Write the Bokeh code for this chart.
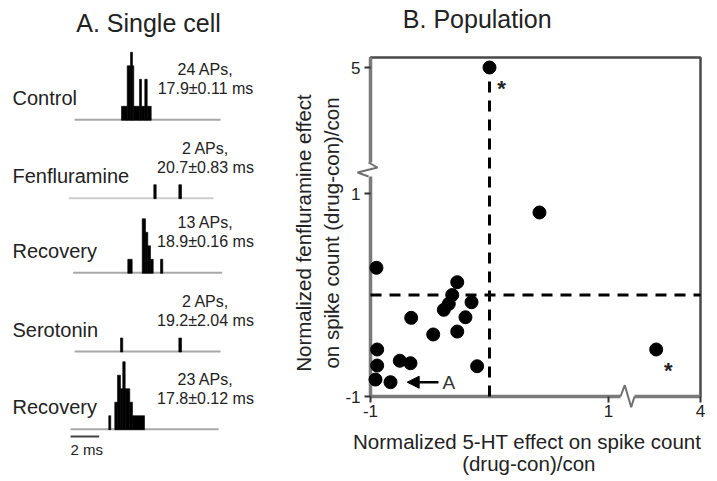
import math
from bokeh.plotting import figure
from bokeh.models import Range1d, Arrow, NormalHead
from bokeh.core.properties import value
from bokeh.embed import file_html
from bokeh.resources import INLINE

FONT = "Liberation Sans"
TXT = "#222222"

# ---------------- Panel A: single cell PSTHs ----------------
row_names = ["Control", "Fenfluramine", "Recovery", "Serotonin", "Recovery"]
ap_texts = ["24 APs,", "2 APs,", "13 APs,", "2 APs,", "23 APs,"]
latency_texts = ["17.9±0.11 ms", "20.7±0.83 ms", "18.9±0.16 ms", "19.2±2.04 ms", "17.8±0.12 ms"]

# bin edges (ms) and spike counts per bin
control_edges = [17.10, 17.50, 17.73, 17.87, 17.96, 18.36, 18.50, 18.73, 18.90, 19.18]
control_counts = [1, 4, 5, 4, 1, 3, 1, 3, 1]
fenf_edges = [19.36, 19.53, 21.11, 21.30]
fenf_counts = [1, 0, 1]
rec1_edges = [17.54, 17.85, 18.55, 18.78, 18.94, 19.13, 19.32, 19.83, 19.99]
rec1_counts = [1, 0, 4, 3, 2, 1, 0, 1]
sero_edges = [17.03, 17.19, 21.11, 21.30]
sero_counts = [1, 0, 1]
rec2_edges = [16.21, 16.35, 16.63, 16.82, 17.03, 17.19, 17.36, 17.68, 17.87, 18.71]
rec2_counts = [1, 0, 2, 4, 3, 5, 3, 2, 1]

sweep_start = [13.82, 13.40, 13.72, 13.82, 13.54]   # ms
sweep_end = [24.03, 23.54, 24.14, 24.03, 23.89]     # ms
scale_bar_ms = 2.0
scale_bar_label = "2 ms"

hist_edges = [control_edges, fenf_edges, rec1_edges, sero_edges, rec2_edges]
hist_counts = [control_counts, fenf_counts, rec1_counts, sero_counts, rec2_counts]

# ---------------- Panel B: population ----------------
fx_vals = [0.00, 0.42, 2.555, -0.95, -0.271, -0.313, -0.342, -0.384, -0.151, -0.202,
           -0.658, -0.473, -0.271, -0.944, -0.754, -0.664, -0.944, -0.104, -0.958, -0.832]
fy_vals = [5.0, 0.813, -0.537, 0.268, 0.126, 0.0, -0.087, -0.146, -0.071, -0.219,
           -0.225, -0.389, -0.360, -0.537, -0.648, -0.672, -0.695, -0.702, -0.833, -0.859]
starred = [True, False, True] + [False] * 17
example_cell = 19          # the cell shown in panel A
x_ticks = [-1, 1, 4]
y_ticks = [-1, 1, 5]
x_tick_labels = ["-1", "1", "4"]
y_tick_labels = ["-1", "1", "5"]
x_label = ["Normalized 5-HT effect on spike count", "(drug-con)/con"]
y_label = ["Normalized fenfluramine effect", "on spike count (drug-con)/con"]

# ================= canvas geometry (pixels) =================
W, H = 712, 478
B_LEFT, B_RIGHT, B_TOP, B_BOTTOM = 370, 700, 57, 396
PXU_X = 119.0          # px per unit, linear part of x (-1..1)
PXU_Y = 101.5          # px per unit, linear part of y (-1..1)
Y5_PX = 67             # pixel row of y = 5 (compressed part)
X_COMP = ((B_RIGHT - (B_LEFT + 2 * PXU_X)) / PXU_X) / (x_ticks[-1] - 1)
Y_COMP = ((B_BOTTOM - 2 * PXU_Y - Y5_PX) / PXU_Y) / (y_ticks[-1] - 1)


def xd(v):
    return float(v) if v <= 1 else 1 + (v - 1) * X_COMP


def yd(v):
    return float(v) if v <= 1 else 1 + (v - 1) * Y_COMP


def bx(px):
    return -1 + (px - B_LEFT) / PXU_X


def by(py):
    return -1 + (B_BOTTOM - py) / PXU_Y


# panel A scales: x in ms, y in pixel rows
PX_MS = 14.3
A_T0 = 8.64


def ax_(px):
    return A_T0 + px / PX_MS


p = figure(width=W, height=H,
           x_range=Range1d(bx(0), bx(W)), y_range=Range1d(by(H), by(0)),
           x_axis_location=None, y_axis_location=None, min_border=0,
           output_backend="svg", toolbar_location=None)
p.extra_x_ranges = {"A": Range1d(ax_(0), ax_(W))}
p.extra_y_ranges = {"A": Range1d(H, 0)}
p.grid.visible = False
p.outline_line_color = None

A = dict(x_range_name="A", y_range_name="A")

# ---------------- Panel A drawing ----------------
BASE_Y = [119.3, 197.7, 272.3, 351.0, 428.7]
UNIT = 13.5
base_colors = ["#a8a8a8", "#cdcdcd", "#a8a8a8", "#a8a8a8", "#a8a8a8"]
p.segment(x0=sweep_start, y0=BASE_Y, x1=sweep_end, y1=BASE_Y, line_color=base_colors, line_width=2, **A)

ql, qr, qt, qb = [], [], [], []
for edges, counts, b in zip(hist_edges, hist_counts, BASE_Y):
    for i, c in enumerate(counts):
        if c > 0:
            ql.append(edges[i]); qr.append(edges[i + 1])
            qt.append(b - c * UNIT); qb.append(b + 0.5)
p.quad(left=ql, right=qr, top=qt, bottom=qb, fill_color="black", line_color="black",
       line_width=0.6, **A)

p.text(x=[ax_(12)] * 5, y=[b - 22 for b in BASE_Y], text=row_names, text_font=value(FONT),
       text_font_size="20px", text_align="left", text_baseline="middle", text_color=TXT, **A)
p.text(x=[ax_(205)] * 5, y=[b - 50 for b in BASE_Y], text=ap_texts, text_font=value(FONT),
       text_font_size="16px", text_align="center", text_baseline="middle", text_color=TXT, **A)
p.text(x=[ax_(205)] * 5, y=[b - 31 for b in BASE_Y], text=latency_texts, text_font=value(FONT),
       text_font_size="16px", text_align="center", text_baseline="middle", text_color=TXT, **A)
p.text(x=[ax_(148)], y=[22.3], text=["A. Single cell"], text_font=value(FONT),
       text_font_size="25px", text_align="center", text_baseline="middle", text_color=TXT, **A)

sb_x0 = sweep_start[4]
p.segment(x0=[sb_x0], y0=[436], x1=[sb_x0 + scale_bar_ms], y1=[436], line_color="#444444",
          line_width=2, **A)
p.text(x=[sb_x0], y=[448.5], text=[scale_bar_label], text_font=value(FONT), text_font_size="15px",
       text_align="left", text_baseline="middle", text_color=TXT, **A)

# ---------------- Panel B drawing ----------------
XMAX = xd(x_ticks[-1])
YTOP = by(B_TOP)
# plot box
p.quad(left=[-1], right=[XMAX], bottom=[-1], top=[YTOP], fill_color=None,
       line_color="#4a4a4a", line_width=2.5)
# axis lines
p.segment(x0=[-1, -1], y0=[-1, -1], x1=[-1, XMAX], y1=[YTOP, -1], line_color="#7a7a7a", line_width=3.5)

# axis breaks
Y_BREAK = by(169)
X_BREAK = bx(627)
p.segment(x0=[-1, X_BREAK - 7 / PXU_X], y0=[Y_BREAK - 7 / PXU_Y, -1],
          x1=[-1, X_BREAK + 7 / PXU_X], y1=[Y_BREAK + 7 / PXU_Y, -1],
          line_color="white", line_width=7)
yz = [(-2, 7), (7, 2), (-13, -3), (-2, -7)]
p.line([-1 + a / PXU_X for a, b in yz], [Y_BREAK + b / PXU_Y for a, b in yz], line_color="#707070", line_width=2)
xz = [(-7, 0), (-2.7, 11.3), (3.7, -10.7), (7, 0)]
p.line([X_BREAK + a / PXU_X for a, b in xz], [-1 + b / PXU_Y for a, b in xz], line_color="#707070", line_width=2)

# ticks and tick labels
TICK = 6
xt = [xd(v) for v in x_ticks]
yt = [yd(v) for v in y_ticks]
p.segment(x0=[-1] * len(yt), y0=yt, x1=[-1 - TICK / PXU_X] * len(yt), y1=yt, line_color="#333333", line_width=2)
p.segment(x0=xt, y0=[-1] * len(xt), x1=xt, y1=[-1 - TICK / PXU_Y] * len(xt), line_color="#333333", line_width=2)
p.text(x=[-1] * len(yt), y=yt, text=y_tick_labels, x_offset=-10, text_font=value(FONT),
       text_font_size="17px", text_align="right", text_baseline="middle", text_color=TXT)
p.text(x=xt, y=[-1] * len(xt), text=x_tick_labels, y_offset=8, text_font=value(FONT),
       text_font_size="17px", text_align="center", text_baseline="top", text_color=TXT)

# threshold dashed lines at 0
p.segment(x0=[0, -1], y0=[-1, 0], x1=[0, XMAX], y1=[yd(5), 0], line_color="black",
          line_width=3, line_dash="11 8")

dx = [xd(v) for v in fx_vals]
dy = [yd(v) for v in fy_vals]
p.scatter(dx, dy, marker="circle", size=13, fill_color="black", line_color="black")

sx = [x for x, s in zip(dx, starred) if s]
sy = [y for y, s in zip(dy, starred) if s]
p.text(x=sx, y=sy, text=["*"] * len(sx), x_offset=12, y_offset=21, text_font=value(FONT),
       text_font_size="22px", text_font_style="bold", text_align="center", text_baseline="middle",
       text_color=TXT)

# arrow to example cell
a_tip = dx[example_cell] + 16.7 / PXU_X
a_tail = a_tip + 31.3 / PXU_X
a_y = dy[example_cell]
p.add_layout(Arrow(end=NormalHead(size=12, fill_color="black", line_color="black"),
                   x_start=a_tail, y_start=a_y, x_end=a_tip, y_end=a_y,
                   line_width=2.5, line_color="black"))
p.text(x=[a_tail], y=[a_y], text=["A"], x_offset=4, text_font=value(FONT), text_font_size="19px",
       text_align="left", text_baseline="middle", text_color="#333333")

# title and axis labels
p.text(x=[bx(476.7)], y=[by(18.3)], text=["B. Population"], text_font=value(FONT),
       text_font_size="25px", text_align="center", text_baseline="middle", text_color=TXT)
p.text(x=[bx(526.7), bx(528.3)], y=[by(440.7), by(463.0)], text=x_label, text_font=value(FONT),
       text_font_size="20.5px", text_align="center", text_baseline="middle", text_color=TXT)
p.text(x=[bx(303.3), bx(331.0)], y=[by(232.5), by(232.5)], text=y_label, angle=math.pi / 2,
       text_font=value(FONT), text_font_size="20.5px", text_align="center", text_baseline="middle",
       text_color=TXT)

open("out.html", "w", encoding="utf-8").write(file_html(p, INLINE))
